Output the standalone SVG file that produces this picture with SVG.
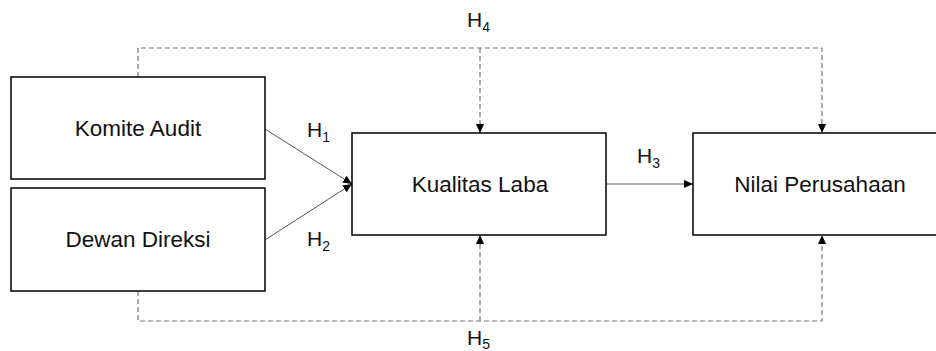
<svg xmlns="http://www.w3.org/2000/svg" width="936" height="351" viewBox="0 0 936 351">
  <defs>
    <marker id="arrow" viewBox="0 0 10 10" refX="10" refY="5" markerWidth="9" markerHeight="9" markerUnits="userSpaceOnUse" orient="auto">
      <path d="M0,0.5 L10,5 L0,9.5 z" fill="#000"/>
    </marker>
    <style>
      .box { fill: #fff; stroke: #000; stroke-width: 1.5; }
      .label { font-family: "Liberation Sans", Arial, sans-serif; font-size: 22.5px; fill: #111; text-anchor: middle; }
      .hyp { font-family: "Liberation Sans", Arial, sans-serif; font-size: 21px; fill: #111; }
      .sub { font-size: 14px; }
      .solid { fill: none; stroke: #555; stroke-width: 1; }
      .dash { fill: none; stroke: #777; stroke-width: 1.2; stroke-dasharray: 5 3; }
    </style>
  </defs>
  <rect width="936" height="351" fill="#fff"/>

  <g id="connectors">
    <!-- direct effects -->
    <line class="solid" x1="265" y1="129" x2="352" y2="184" marker-end="url(#arrow)"/>
    <line class="solid" x1="265" y1="240" x2="352" y2="184" marker-end="url(#arrow)"/>
    <line class="solid" x1="606" y1="184" x2="693" y2="184" marker-end="url(#arrow)"/>
    <!-- moderating paths, top -->
    <polyline class="dash" points="138,77 138,48 822,48 822,133" marker-end="url(#arrow)"/>
    <line class="dash" x1="480" y1="48" x2="480" y2="133" marker-end="url(#arrow)"/>
    <!-- moderating paths, bottom -->
    <polyline class="dash" points="138,291 138,321 822,321 822,235" marker-end="url(#arrow)"/>
    <line class="dash" x1="480" y1="321" x2="480" y2="235" marker-end="url(#arrow)"/>
  </g>

  <g id="komite-audit">
    <rect class="box" x="11" y="77" width="254" height="102"/>
    <text class="label" x="138" y="136">Komite Audit</text>
  </g>
  <g id="dewan-direksi">
    <rect class="box" x="11" y="188" width="254" height="103"/>
    <text class="label" x="138" y="247">Dewan Direksi</text>
  </g>
  <g id="kualitas-laba">
    <rect class="box" x="352" y="133" width="254" height="102"/>
    <text class="label" x="480" y="192">Kualitas Laba</text>
  </g>
  <g id="nilai-perusahaan">
    <rect class="box" x="693" y="133" width="254" height="102"/>
    <text class="label" x="820" y="192">Nilai Perusahaan</text>
  </g>

  <g id="hypotheses">
    <text class="hyp" x="467" y="27">H<tspan class="sub" dy="5">4</tspan></text>
    <text class="hyp" x="307" y="137">H<tspan class="sub" dy="5">1</tspan></text>
    <text class="hyp" x="307" y="246">H<tspan class="sub" dy="5">2</tspan></text>
    <text class="hyp" x="637" y="163">H<tspan class="sub" dy="5">3</tspan></text>
    <text class="hyp" x="467" y="345">H<tspan class="sub" dy="4">5</tspan></text>
  </g>
</svg>
